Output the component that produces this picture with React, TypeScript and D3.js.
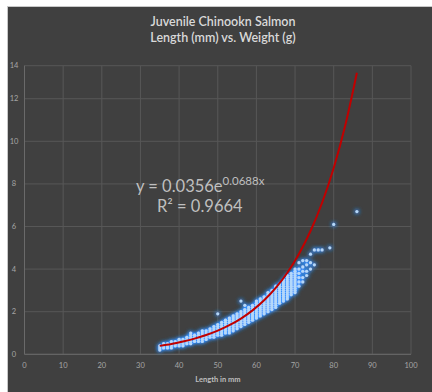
import React from "react";
import * as d3 from "d3";

// measured fish: one column of weights (g) for each length (mm)
const lengths = [
  35, 36, 37, 38, 39, 40, 41, 42, 43, 44, 45, 46, 47, 48, 49, 50, 51, 52, 53,
  54, 55, 56, 57, 58, 59, 60, 61, 62, 63, 64, 65, 66, 67, 68, 69, 70, 71, 72,
  73, 74, 75, 76, 77, 79, 80, 86,
];
const weights = [
  [0.2, 0.3, 0.4],
  [0.3, 0.4, 0.5],
  [0.3, 0.4, 0.5],
  [0.3, 0.4, 0.5, 0.6],
  [0.4, 0.5, 0.6],
  [0.4, 0.5, 0.6, 0.7],
  [0.4, 0.5, 0.6, 0.7],
  [0.5, 0.6, 0.7, 0.8],
  [0.5, 0.6, 0.7, 0.8, 0.9, 1.0],
  [0.6, 0.7, 0.8, 0.9],
  [0.6, 0.7, 0.8, 0.9, 1.0],
  [0.6, 0.7, 0.8, 0.9, 1.0, 1.1],
  [0.7, 0.8, 0.9, 1.0, 1.1],
  [0.8, 0.9, 1.0, 1.1, 1.2],
  [0.8, 0.9, 1.0, 1.1, 1.2, 1.3],
  [0.9, 1.0, 1.1, 1.2, 1.3, 1.4, 1.9],
  [0.9, 1.0, 1.1, 1.2, 1.3, 1.4, 1.5],
  [1.0, 1.1, 1.2, 1.3, 1.4, 1.5, 1.6],
  [1.0, 1.1, 1.2, 1.3, 1.4, 1.5, 1.6, 1.7],
  [1.1, 1.2, 1.3, 1.4, 1.5, 1.6, 1.7, 1.8],
  [1.2, 1.3, 1.4, 1.5, 1.6, 1.7, 1.8, 1.9],
  [1.3, 1.4, 1.5, 1.6, 1.7, 1.8, 1.9, 2.0, 2.5],
  [1.4, 1.5, 1.6, 1.7, 1.8, 1.9, 2.0, 2.1, 2.3],
  [1.5, 1.6, 1.7, 1.8, 1.9, 2.0, 2.1, 2.2],
  [1.6, 1.7, 1.8, 1.9, 2.0, 2.1, 2.2, 2.3],
  [1.7, 1.8, 1.9, 2.0, 2.1, 2.2, 2.3, 2.4, 2.5],
  [1.8, 1.9, 2.0, 2.1, 2.2, 2.3, 2.4, 2.5, 2.6],
  [1.9, 2.0, 2.1, 2.2, 2.3, 2.4, 2.5, 2.6, 2.7],
  [2.0, 2.1, 2.2, 2.3, 2.4, 2.5, 2.6, 2.7, 2.8, 2.9],
  [2.1, 2.2, 2.3, 2.4, 2.5, 2.6, 2.7, 2.8, 2.9, 3.0],
  [2.2, 2.3, 2.4, 2.5, 2.6, 2.7, 2.8, 2.9, 3.0, 3.1, 3.2],
  [2.4, 2.5, 2.6, 2.7, 2.8, 2.9, 3.0, 3.1, 3.2, 3.3],
  [2.5, 2.6, 2.7, 2.8, 2.9, 3.0, 3.1, 3.2, 3.3, 3.4, 3.5],
  [2.6, 2.7, 2.8, 2.9, 3.0, 3.1, 3.2, 3.3, 3.4, 3.5, 3.6, 3.7],
  [2.8, 2.9, 3.0, 3.1, 3.2, 3.3, 3.4, 3.5, 3.6, 3.7, 3.8],
  [2.9, 3.0, 3.1, 3.2, 3.3, 3.4, 3.5, 3.6, 3.7, 3.8, 3.9, 4.0],
  [3.2, 3.4, 3.6, 3.8, 4.0, 4.3],
  [3.4, 3.6, 3.9, 4.1, 4.4],
  [3.7, 3.9, 4.2, 4.4],
  [4.0, 4.3, 4.7],
  [4.2, 4.9],
  [4.9],
  [4.9],
  [5.0],
  [6.1],
  [6.7],
];

// Excel exponential trendline y = a * e^(b x), drawn over the data range
const trendA = 0.0356;
const trendB = 0.0688;
const trendX = [35, 38, 41, 44, 47, 50, 53, 56, 59, 62, 65, 68, 71, 74, 77, 80, 83, 86];

const xTicks = [0, 10, 20, 30, 40, 50, 60, 70, 80, 90, 100];
const yTicks = [0, 2, 4, 6, 8, 10, 12, 14];

const W = 432;
const H = 392;
const font = "Lato, 'Open Sans', sans-serif";

export default function App() {
  const x = d3.scaleLinear().domain([0, 100]).range([24.5, 411]);
  const y = d3.scaleLinear().domain([0, 13.55]).range([354.3, 65.7]).clamp(true);

  const points = lengths.flatMap((len, i) => weights[i].map((w) => [len, w]));
  const trend = d3
    .line<number>()
    .x((d) => x(d))
    .y((d) => y(trendA * Math.exp(trendB * d)))
    .curve(d3.curveMonotoneX)(trendX);

  return (
    <svg
      width={W}
      height={H}
      style={{ position: "absolute", left: 0, top: 0, display: "block" }}
    >
      <defs>
        <filter id="glow" x="-20%" y="-20%" width="140%" height="140%">
          <feGaussianBlur in="SourceAlpha" stdDeviation="2" result="blur" />
          <feFlood floodColor="#2e90ff" floodOpacity="1" />
          <feComposite in2="blur" operator="in" result="halo" />
          <feComponentTransfer in="halo" result="halo2">
            <feFuncA type="linear" slope="2.2" />
          </feComponentTransfer>
          <feMerge>
            <feMergeNode in="halo2" />
            <feMergeNode in="SourceGraphic" />
          </feMerge>
        </filter>
      </defs>
      <rect width={W} height={H} fill="#ffffff" />
      <rect x={7.5} y={6.5} width={W} height={H} fill="#404040" stroke="#c8c8c8" />

      <text x={223} y={26} textAnchor="middle" fill="#d9d9d9" fontFamily={font} fontSize={12.5} fontWeight={600}>
        Juvenile Chinookn Salmon
      </text>
      <text x={223} y={41.5} textAnchor="middle" fill="#d9d9d9" fontFamily={font} fontSize={12.5} fontWeight={600}>
        Length (mm) vs. Weight (g)
      </text>

      {yTicks.map((t) => (
        <g key={"y" + t}>
          <line x1={x(0)} x2={x(100)} y1={y(t)} y2={y(t)} stroke="#575757" strokeWidth={1} />
          <text x={14} y={y(t) + 2.5} textAnchor="middle" fill="#a6a6a6" fontFamily={font} fontSize={7.5}>
            {t}
          </text>
        </g>
      ))}
      {xTicks.map((t) => (
        <g key={"x" + t}>
          <line x1={x(t)} x2={x(t)} y1={y(0)} y2={y(14)} stroke="#575757" strokeWidth={1} />
          <text x={x(t)} y={367.5} textAnchor="middle" fill="#a6a6a6" fontFamily={font} fontSize={7.5}>
            {t}
          </text>
        </g>
      ))}
      <line x1={x(0)} x2={x(0)} y1={y(0)} y2={y(14)} stroke="#6a6a6a" />
      <line x1={x(0)} x2={x(100)} y1={y(0)} y2={y(0)} stroke="#6a6a6a" />

      <text x={218} y={381.5} textAnchor="middle" fill="#bfbfbf" fontFamily={font} fontSize={7.5} fontWeight={700}>
        Length in mm
      </text>

      <g filter="url(#glow)">
        {points.map(([len, w], i) => (
          <circle key={i} cx={x(len)} cy={y(w)} r={1.6} fill="#b4d8fa" />
        ))}
      </g>

      <path d={trend ?? ""} fill="none" stroke="#c00000" strokeWidth={2} />

      <text x={136} y={192} fill="#bfbfbf" fontFamily={font} fontSize={16.5}>
        y = 0.0356e
        <tspan dy={-7} fontSize={11.5}>0.0688x</tspan>
      </text>
      <text x={157} y={211.5} fill="#bfbfbf" fontFamily={font} fontSize={16.5}>
        R² = 0.9664
      </text>
    </svg>
  );
}
